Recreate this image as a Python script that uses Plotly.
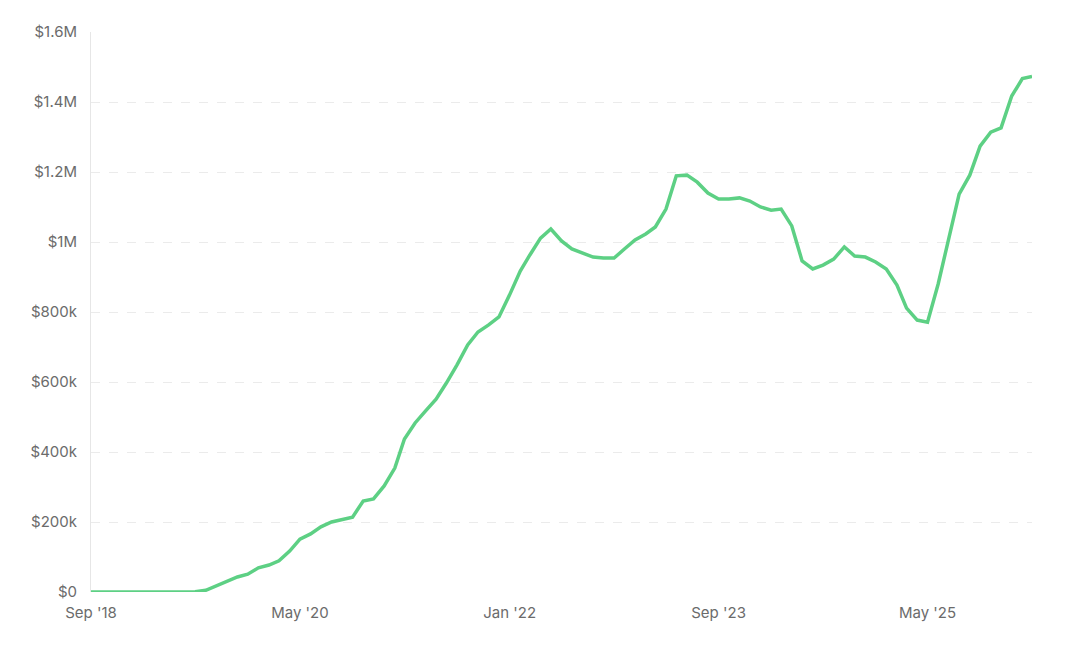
import plotly.graph_objects as go
import pandas as pd

dates = pd.date_range("2018-09-01", periods=91, freq="MS")
values_k = [0,0,0,0,0,0,0,0,0,0,1,5,17,31,43,51,69,77,89,117,
            151,166,186,200,206,214,260,266,303,354,437,483,517,551,597,649,706,743,763,786,
            849,917,963,1011,1037,1003,980,969,957,954,954,980,1006,1023,1043,1094,1189,1191,1171,1140,
            1123,1123,1126,1117,1100,1091,1094,1046,946,923,934,951,986,960,957,943,923,877,811,777,
            771,880,1010,1137,1191,1274,1314,1326,1417,1467,1473]
values = [v*1000 for v in values_k]
tick_dates = ["2018-09-01","2020-05-01","2022-01-01","2023-09-01","2025-05-01"]
tick_text = ["Sep '18","May '20","Jan '22","Sep '23","May '25"]
y_ticks = [0,200000,400000,600000,800000,1000000,1200000,1400000,1600000]
y_text = ["$0","$200k","$400k","$600k","$800k","$1M","$1.2M","$1.4M","$1.6M"]

fig = go.Figure(go.Scatter(x=dates, y=values, mode="lines",
                           line=dict(color="#5dd084", width=3.5, shape="linear")))
fig.update_layout(width=1070, height=664, margin=dict(l=83, r=46, t=24, b=80),
                  plot_bgcolor="white", paper_bgcolor="white", showlegend=False,
                  font=dict(family="Inter", size=15, color="#6b6b6b"))
fig.update_xaxes(range=[dates[0], dates[-1]], tickvals=tick_dates, ticktext=tick_text,
                 showgrid=False, showline=False, zeroline=False, ticks="", ticklabelstandoff=10)
fig.update_yaxes(range=[0,1600000], tickvals=y_ticks, ticktext=y_text, showgrid=True,
                 gridcolor="#ebebeb", griddash="dash", zeroline=False, showline=True,
                 linecolor="#e6e6e6", ticks="", ticklabelstandoff=10)
fig.write_html("out.html")
